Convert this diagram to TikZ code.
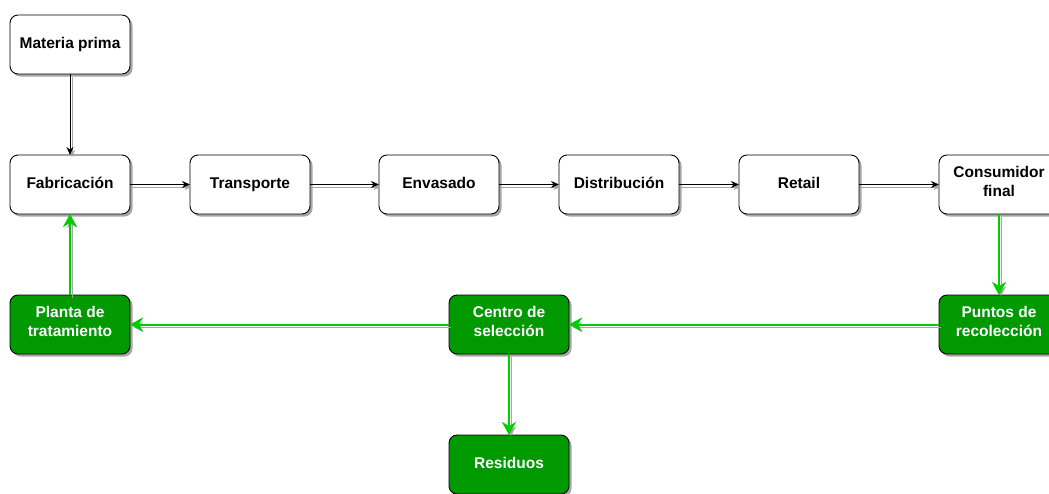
\documentclass[tikz,border=0pt]{standalone}
\usepackage{fontspec}
\setmainfont{Liberation Sans}
\usetikzlibrary{shadows,arrows.meta,positioning}
\definecolor{boxgreen}{RGB}{0,153,0}
\definecolor{linegreen}{RGB}{0,204,0}
\colorlet{shadowgray}{black!35}
\tikzset{
  wbox/.style={draw=black,fill=white,rounded corners=8pt,line width=0.9pt,
               minimum width=120pt,minimum height=59pt,inner sep=2pt,outer sep=0pt,
               align=center,font=\fontsize{15.5}{19}\selectfont\bfseries,
               execute at begin node=\strut,
               drop shadow={shadow xshift=2.5pt,shadow yshift=-2.5pt,
                            fill=black,opacity=0.35}},
  gbox/.style={wbox,fill=boxgreen,text=white},
  arr/.style={-{Stealth[length=8pt,width=7pt]},line width=0.8pt,
              preaction={draw=shadowgray,transform canvas={shift={(2pt,-2.5pt)}}}},
  garr/.style={arr,-{Stealth[length=13pt,width=14pt,inset=4pt]},draw=linegreen,line width=2pt},
}
\begin{document}
\begin{tikzpicture}[x=1pt,y=-1pt]
  \useasboundingbox (0,0) rectangle (1049,493);
  % top row
  \node[wbox] (mat) at (70,44.5) {Materia prima};
  \node[wbox,below=81pt of mat] (fab) {Fabricación};
  \node[wbox,right=60pt of fab] (tra) {Transporte};
  \node[wbox,right=69pt of tra] (env) {Envasado};
  \node[wbox,right=60pt of env] (dis) {Distribución};
  \node[wbox,right=60pt of dis] (ret) {Retail};
  \node[wbox,right=80pt of ret] (con) {Consumidor\\final};
  % recovery row
  \node[gbox,below=81pt of con] (pun) {Puntos de\\recolección};
  \node[gbox,left=370pt of pun] (cen) {Centro de\\selección};
  \node[gbox,left=319pt of cen] (pla) {Planta de\\tratamiento};
  \node[gbox,below=81pt of cen] (res) {Residuos};
  % flows
  \draw[arr] (mat)--(fab);
  \draw[arr] (fab)--(tra);
  \draw[arr] (tra)--(env);
  \draw[arr] (env)--(dis);
  \draw[arr] (dis)--(ret);
  \draw[arr] (ret)--(con);
  \draw[garr] (con)--(pun);
  \draw[garr] (pun)--(cen);
  \draw[garr] (cen)--(pla);
  \draw[garr] (cen)--(res);
  \draw[garr] (pla)--(fab);
\end{tikzpicture}
\end{document}
